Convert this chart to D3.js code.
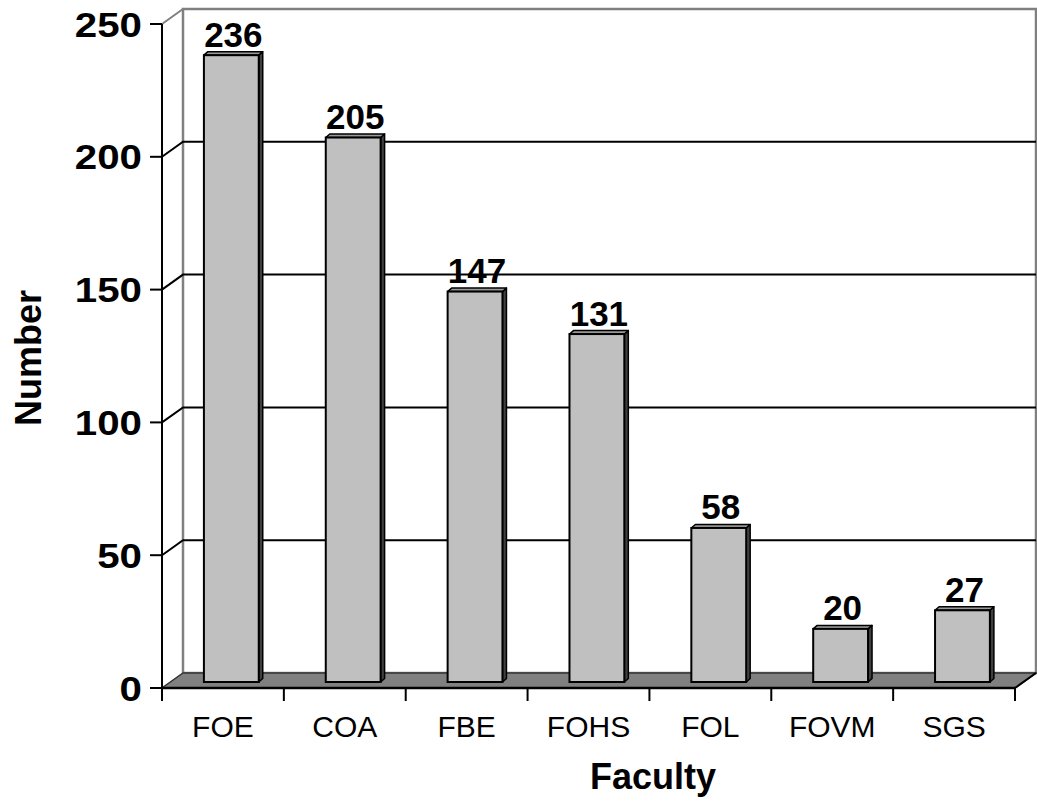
<!DOCTYPE html>
<html>
<head>
<meta charset="utf-8">
<script src="https://cdn.jsdelivr.net/npm/d3@7"></script>
<style>
  body { margin: 0; background: #fff; }
  svg { display: block; }
  text { font-family: "Liberation Sans", Arial, Helvetica, sans-serif; fill: #000; }
</style>
</head>
<body>
<svg id="chart" width="1037" height="806"></svg>
<script>
// Data
const faculties = ["FOE", "COA", "FBE", "FOHS", "FOL", "FOVM", "SGS"];
const counts = [236, 205, 147, 131, 58, 20, 27];
const yTicks = [0, 50, 100, 150, 200, 250];
const xTitle = "Faculty";
const yTitle = "Number";

const svg = d3.select("#chart");

// Front plane of the 3D box
const plotLeft = 162, plotRight = 1015, plotBase = 688, plotTop = 24;
// Offset from the front plane to the back wall
const wall = { dx: 21, dy: -15 };
// Bars stand part-way into the floor
const barShift = { dx: wall.dx * 0.4, dy: wall.dy * 0.4 };
// Thickness of each bar's top/side faces
const barDepth = { dx: 4, dy: -3.5 };

const x = d3.scaleBand().domain(faculties).range([plotLeft, plotRight]);
const y = d3.scaleLinear().domain([0, 250]).range([plotBase, plotTop]);

const grey = "#808080";
const pts = arr => arr.map(p => p.join(",")).join(" ");

// Back wall
svg.append("rect")
  .attr("x", plotLeft + wall.dx).attr("y", y(250) + wall.dy)
  .attr("width", plotRight - plotLeft).attr("height", y(0) - y(250))
  .attr("fill", "#fff").attr("stroke", grey).attr("stroke-width", 2.5);

// Top edge of the left wall
svg.append("line")
  .attr("x1", plotLeft).attr("y1", y(250))
  .attr("x2", plotLeft + wall.dx).attr("y2", y(250) + wall.dy)
  .attr("stroke", grey).attr("stroke-width", 2);

// Gridlines across the left and back walls
const grid = svg.append("g");
yTicks.filter(t => t > 0 && t < 250).forEach(t => {
  grid.append("polyline")
    .attr("points", pts([
      [plotLeft, y(t)],
      [plotLeft + wall.dx, y(t) + wall.dy],
      [plotRight + wall.dx, y(t) + wall.dy]
    ]))
    .attr("fill", "none").attr("stroke", "#000").attr("stroke-width", 2);
});

// Floor
svg.append("polygon")
  .attr("points", pts([
    [plotLeft, y(0)],
    [plotRight, y(0)],
    [plotRight + wall.dx, y(0) + wall.dy],
    [plotLeft + wall.dx, y(0) + wall.dy]
  ]))
  .attr("fill", grey).attr("stroke", "#333").attr("stroke-width", 1.5);

svg.append("line")
  .attr("x1", plotRight).attr("y1", y(0))
  .attr("x2", plotRight + wall.dx).attr("y2", y(0) + wall.dy)
  .attr("stroke", "#000").attr("stroke-width", 2);

// Bars
const bw = x.bandwidth() * 0.45;
const bars = svg.append("g");
faculties.forEach((f, i) => {
  const v = counts[i];
  const xl = x(f) + (x.bandwidth() - bw) / 2 + barShift.dx;
  const xr = xl + bw;
  const yt = y(v) + barShift.dy;
  const yb = y(0) + barShift.dy;
  const g = bars.append("g");
  // side face
  g.append("polygon")
    .attr("points", pts([[xr, yt], [xr + barDepth.dx, yt + barDepth.dy],
      [xr + barDepth.dx, yb + barDepth.dy], [xr, yb]]))
    .attr("fill", "#404040").attr("stroke", "#000").attr("stroke-width", 1.5)
    .attr("stroke-linejoin", "round");
  // top face
  g.append("polygon")
    .attr("points", pts([[xl, yt], [xl + barDepth.dx, yt + barDepth.dy],
      [xr + barDepth.dx, yt + barDepth.dy], [xr, yt]]))
    .attr("fill", "#9a9a9a").attr("stroke", "#000").attr("stroke-width", 1.5)
    .attr("stroke-linejoin", "round");
  // front face
  g.append("rect")
    .attr("x", xl).attr("y", yt)
    .attr("width", bw).attr("height", yb - yt)
    .attr("fill", "#c0c0c0").attr("stroke", "#000").attr("stroke-width", 2);
  // value label
  g.append("text")
    .attr("x", (xl + xr + barDepth.dx) / 2)
    .attr("y", yt + barDepth.dy - 5)
    .attr("text-anchor", "middle")
    .attr("font-size", 35).attr("font-weight", "bold")
    .text(v);
});

// Y axis
const yAxis = svg.append("g");
yAxis.append("line")
  .attr("x1", plotLeft).attr("y1", y(250)).attr("x2", plotLeft).attr("y2", y(0) + 0.5)
  .attr("stroke", "#000").attr("stroke-width", 2);
yTicks.forEach(t => {
  yAxis.append("line")
    .attr("x1", plotLeft - 12).attr("y1", y(t)).attr("x2", plotLeft).attr("y2", y(t))
    .attr("stroke", "#000").attr("stroke-width", 2);
  yAxis.append("text")
    .attr("transform", `translate(${plotLeft - 20},${y(t) + 12.5}) scale(1.15,1)`)
    .attr("text-anchor", "end")
    .attr("font-size", 35).attr("font-weight", "bold")
    .text(t);
});

// X axis
const xAxis = svg.append("g");
xAxis.append("line")
  .attr("x1", plotLeft - 1).attr("y1", y(0)).attr("x2", plotRight + 1).attr("y2", y(0))
  .attr("stroke", "#000").attr("stroke-width", 2.5);
const bounds = faculties.map(f => x(f)).concat([plotRight]);
bounds.forEach(b => {
  xAxis.append("line")
    .attr("x1", b).attr("y1", y(0)).attr("x2", b).attr("y2", y(0) + 13)
    .attr("stroke", "#000").attr("stroke-width", 2);
});
faculties.forEach(f => {
  xAxis.append("text")
    .attr("x", x(f) + x.bandwidth() / 2)
    .attr("y", 737)
    .attr("text-anchor", "middle")
    .attr("font-size", 30)
    .text(f);
});

// Axis titles
svg.append("text")
  .attr("x", 653).attr("y", 789)
  .attr("text-anchor", "middle")
  .attr("font-size", 36).attr("font-weight", "bold")
  .text(xTitle);

svg.append("text")
  .attr("transform", "translate(41,358) rotate(-90)")
  .attr("text-anchor", "middle")
  .attr("font-size", 36).attr("font-weight", "bold")
  .text(yTitle);
</script>
</body>
</html>
